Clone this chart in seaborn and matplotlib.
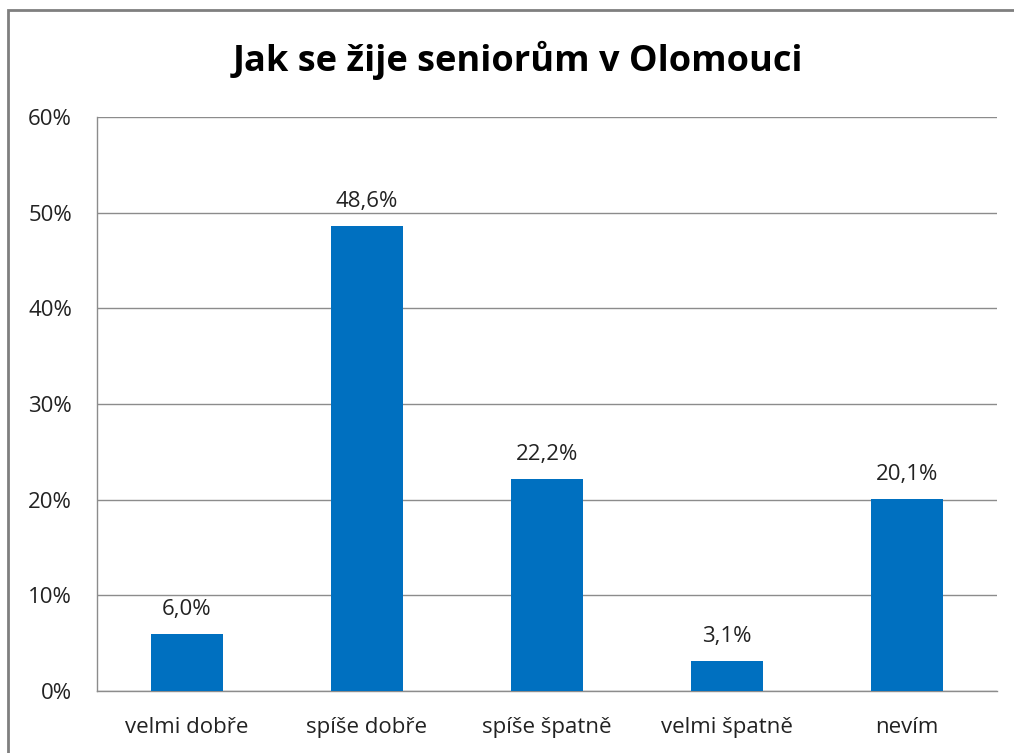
import matplotlib
matplotlib.use("Agg")
import matplotlib.pyplot as plt
import seaborn as sns
import pandas as pd
from matplotlib.patches import Rectangle
from matplotlib.ticker import FuncFormatter

# data
categories = ["velmi dobře", "spíše dobře", "spíše špatně", "velmi špatně", "nevím"]
values = [6.0, 48.6, 22.2, 3.1, 20.1]
title = "Jak se žije seniorům v Olomouci"

df = pd.DataFrame({"odpoved": categories, "podil": values})

sns.set_theme(style="white")
plt.rcParams["font.family"] = ["Open Sans", "DejaVu Sans"]

fig = plt.figure(figsize=(10.14, 7.53), dpi=100)
ax = fig.add_axes([97 / 1014, 1 - 691 / 753, 900 / 1014, 574 / 753])

sns.barplot(data=df, x="odpoved", y="podil", color="#0070C0", width=0.4,
            saturation=1, linewidth=0, ax=ax, zorder=3)

ax.set_ylim(0, 60)
ax.set_yticks(range(0, 61, 10))
ax.yaxis.set_major_formatter(FuncFormatter(lambda v, p: f"{v:.0f}%"))
ax.grid(axis="y", color="#8c8c8c", linewidth=1, zorder=0)
ax.set_xlabel("")
ax.set_ylabel("")
ax.tick_params(axis="both", length=0, labelsize=16, colors="#222222")
ax.tick_params(axis="y", pad=18)
ax.tick_params(axis="x", pad=19)

for side in ["top", "right"]:
    ax.spines[side].set_visible(False)
for side in ["left", "bottom"]:
    ax.spines[side].set_color("#8c8c8c")
    ax.spines[side].set_linewidth(1)

# value labels in Czech decimal format
for patch, v in zip(ax.patches, values):
    ax.annotate(f"{v:.1f}%".replace(".", ","),
                (patch.get_x() + patch.get_width() / 2, patch.get_height()),
                xytext=(0, 10), textcoords="offset points",
                ha="center", va="bottom", fontsize=16, color="#222222")

fig.text(0.511, 1 - 60 / 753, title, ha="center", va="center",
         fontsize=26, fontweight="bold", color="black")

# outer chart border (cropped on right and bottom as in reference)
fig.patches.append(Rectangle((8 / 1014, -0.05), 1.1, 1 - 10 / 753 + 0.05,
                             transform=fig.transFigure, fill=False,
                             edgecolor="#7f7f7f", linewidth=2))

fig.savefig("out.png", dpi=100)
